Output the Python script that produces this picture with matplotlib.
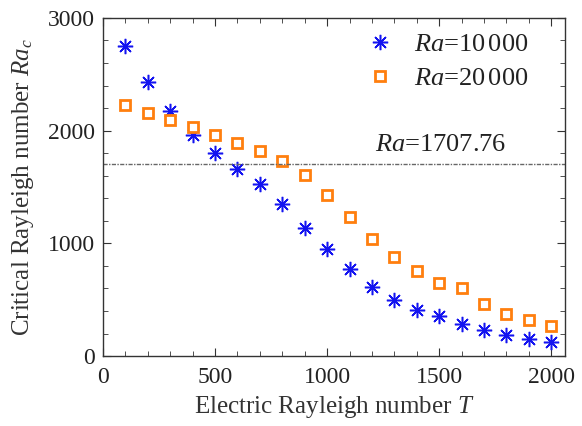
import matplotlib
matplotlib.use("Agg")
import matplotlib.pyplot as plt
import numpy as np
from matplotlib.ticker import MultipleLocator

plt.rcParams["font.family"] = "Liberation Serif"
plt.rcParams["mathtext.fontset"] = "custom"
plt.rcParams["mathtext.rm"] = "Liberation Serif"
plt.rcParams["mathtext.it"] = "Liberation Serif:italic"

T = np.arange(100, 2001, 100)
ra_c_10000 = [2755, 2427, 2178, 1964, 1804, 1662, 1525, 1351, 1138, 951,
              773, 613, 498, 409, 356, 284, 231, 187, 151, 124]
ra_c_20000 = [2231, 2160, 2092, 2033, 1964, 1893, 1822, 1733, 1609, 1431,
              1236, 1040, 880, 756, 649, 604, 462, 373, 320, 267]
ra_critical = 1707.76

fig = plt.figure(figsize=(5.82, 4.26), dpi=100)
ax = fig.add_axes([0.177, 0.164, 0.794, 0.794])

ax.plot(T, ra_c_10000, ls="none", marker=(8, 2, 0), ms=11, mew=1.1,
        color="#1414f0", label=r"$Ra$=10$\,$000")
ax.plot(T, ra_c_20000, ls="none", marker="s", ms=7, mew=2,
        mfc="white", mec="#ff7f0e", label=r"$Ra$=20$\,$000")
ax.axhline(ra_critical, color="#666666", lw=1.0, ls=(0, (3, 1, 1, 1)))
ax.text(1212, 1815, r"$Ra$=1707.76", fontsize=19, va="baseline", ha="left",
        color="#222222")

ax.set(xlim=(0, 2062), ylim=(0, 3000))
ax.xaxis.set_major_locator(MultipleLocator(500))
ax.xaxis.set_minor_locator(MultipleLocator(100))
ax.yaxis.set_major_locator(MultipleLocator(1000))
ax.yaxis.set_minor_locator(MultipleLocator(200))
ax.tick_params(which="both", direction="in", top=True, right=True, labelsize=17,
               color="#333333", labelcolor="#222222")
ax.tick_params(axis="x", pad=8)
ax.tick_params(axis="y", pad=6)
ax.tick_params(which="major", length=6)
ax.tick_params(which="minor", length=3.5)
for s in ax.spines.values():
    s.set_color("#333333")
    s.set_linewidth(1.0)

ax.set_xlabel(r"Electric Rayleigh number $T$", fontsize=18, labelpad=4, color="#333333")
ax.set_ylabel(r"Critical Rayleigh number $Ra_c$", fontsize=18, labelpad=8, color="#333333")

ax.legend(loc="upper right", frameon=False, fontsize=19, handletextpad=0.5,
          handlelength=1.6, borderaxespad=0.1, labelspacing=0.4,
          bbox_to_anchor=(0.95, 0.995), labelcolor="#222222")

fig.savefig("out.png", dpi=100)
